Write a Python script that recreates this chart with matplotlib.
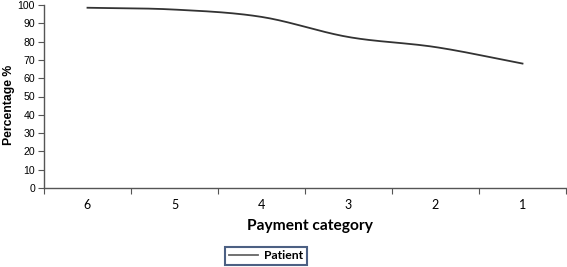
import numpy as np
import matplotlib
matplotlib.use("Agg")
import matplotlib.pyplot as plt

categories = ["6", "5", "4", "3", "2", "1"]
patient = [98.5, 97.5, 93.5, 82.5, 77.0, 68.0]
yticks = list(range(0, 101, 10))

def catmull_rom(xs, ys, n=30):
    xs = np.asarray(xs, float); ys = np.asarray(ys, float)
    px = np.concatenate([[2*xs[0]-xs[1]], xs, [2*xs[-1]-xs[-2]]])
    py = np.concatenate([[2*ys[0]-ys[1]], ys, [2*ys[-1]-ys[-2]]])
    ox, oy = [], []
    for i in range(1, len(px)-2):
        t = np.linspace(0, 1, n, endpoint=(i == len(px)-3))
        for arr, out in ((px, ox), (py, oy)):
            p0, p1, p2, p3 = arr[i-1], arr[i], arr[i+1], arr[i+2]
            out.extend(0.5*((2*p1) + (-p0+p2)*t + (2*p0-5*p1+4*p2-p3)*t**2 + (-p0+3*p1-3*p2+p3)*t**3))
    return np.array(ox), np.array(oy)

fig = plt.figure(figsize=(5.67, 2.67), dpi=100)
ax = fig.add_axes([44/567, (267-188)/267, (566-44)/567, (188-5)/267])

x = np.arange(len(categories))
sx, sy = catmull_rom(x, patient)
line, = ax.plot(sx, sy, color="#333333", lw=1.3, label="Patient")

ax.set_xlim(-0.5, len(categories)-0.5)
ax.set_ylim(0, 100)
ax.set_yticks(yticks)
ax.set_yticklabels([str(v) for v in yticks], fontsize=7.6, family="Liberation Sans")
ax.set_xticks(np.arange(-0.5, len(categories)))
ax.set_xticklabels([])
ax.set_xticks(x, minor=True)
ax.set_xticklabels(categories, minor=True, fontsize=9, family="Lato")
ax.tick_params(axis="x", which="minor", length=0, pad=8)
ax.tick_params(axis="x", which="major", length=4, direction="out", color="#555555")
ax.tick_params(axis="y", length=4, direction="out", color="#555555", pad=2.5)
for s in ("top", "right"):
    ax.spines[s].set_visible(False)
for s in ("left", "bottom"):
    ax.spines[s].set_color("#555555")
    ax.spines[s].set_linewidth(1.0)

ax.set_xlabel("Payment category", fontsize=11.2, fontweight="bold", family="Lato", labelpad=5)
ax.xaxis.set_label_coords(0.51, -0.17)
ax.xaxis.label.set_va("top")
ax.set_ylabel("Percentage %", fontsize=8.8, fontweight="bold", family="Liberation Sans")
ax.yaxis.set_label_coords(-0.0556, 0.454)

leg = fig.legend(handles=[line], loc="lower left", bbox_to_anchor=(225/567, 2/267),
                 prop={"family": "Lato", "weight": "bold", "size": 8.8},
                 frameon=True, fancybox=False, handlelength=2.4, borderpad=0.3,
                 handletextpad=0.5, borderaxespad=0)
leg.get_frame().set_edgecolor("#1f3864")
leg.get_frame().set_linewidth(1.5)
leg.legend_handles[0].set_color("#666666")

fig.savefig("out.png", dpi=100)
